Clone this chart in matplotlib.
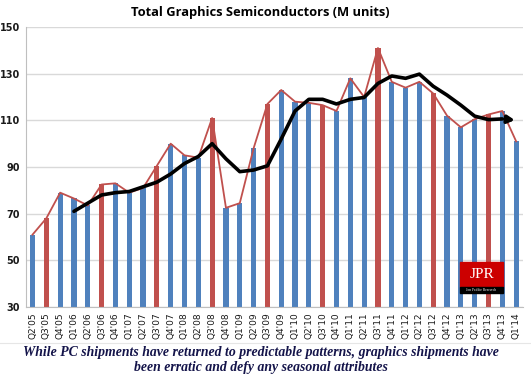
import numpy as np
import matplotlib.pyplot as plt
from matplotlib.patches import Rectangle

# ── Data ───────────────────────────────────────────────────────
quarters = ["Q2'05", "Q3'05", "Q4'05", "Q1'06", "Q2'06", "Q3'06", "Q4'06",
            "Q1'07", "Q2'07", "Q3'07", "Q4'07", "Q1'08", "Q2'08", "Q3'08",
            "Q4'08", "Q1'09", "Q2'09", "Q3'09", "Q4'09", "Q1'10", "Q2'10",
            "Q3'10", "Q4'10", "Q1'11", "Q2'11", "Q3'11", "Q4'11", "Q1'12",
            "Q2'12", "Q3'12", "Q4'12", "Q1'13", "Q2'13", "Q3'13", "Q4'13",
            "Q1'14"]
units = [61, 68, 79, 76.5, 73.5, 82.5, 83, 79, 81, 90.5, 100, 95, 94, 111,
         72.5, 74.5, 98, 117, 123, 118, 117.5, 116.5, 114, 128, 120, 141,
         126.5, 124, 126.5, 121.5, 112, 107, 110.5, 112.5, 114, 101]
# trend line starts at Q1'06
trend = [71, 74.5, 78, 79, 79.5, 81.5, 83.5, 87, 91.5, 94.5, 100, 93.5, 88,
         88.7, 90.5, 102, 114, 119, 119, 117, 119, 119.8, 125.8, 129, 128,
         129.8, 124.6, 120.8, 116.5, 111.8, 110.3, 110.6, 110]
yticks = [30, 50, 70, 90, 110, 130, 150]

BLUE = '#4F81BD'
RED = '#C0504D'
GRID = '#D9D9D9'

# ── Figure ─────────────────────────────────────────────────────
fig = plt.figure(figsize=(5.31, 3.77), dpi=100)
fig.patch.set_facecolor('white')
ax = fig.add_axes([0.0482, 0.1857, 0.9368, 0.7427])

x = np.arange(len(quarters))
colors = [RED if q.startswith('Q3') else BLUE for q in quarters]
ax.bar(x, np.array(units) - 30, bottom=30, width=0.38, color=colors, zorder=2)
ax.plot(x, units, color=RED, lw=1.3, zorder=3)

tx = x[len(x) - len(trend):]
ax.plot(tx[:-1], trend[:-1], color='black', lw=2.6, zorder=4,
        solid_capstyle='round', solid_joinstyle='round')
ax.annotate('', xy=(tx[-1] + 0.1, trend[-1]), xytext=(tx[-2], trend[-2]),
            arrowprops=dict(arrowstyle='-|>,head_length=0.4,head_width=0.22',
                            color='black', lw=2.6), zorder=5)

ax.set_xlim(-0.5, len(quarters) - 0.5)
ax.set_ylim(30, 150)
ax.set_yticks(yticks)
ax.yaxis.grid(True, color=GRID, lw=1.0, zorder=0)
ax.set_axisbelow(True)
ax.set_xticks(x)
ax.set_xticklabels(quarters, rotation=90, fontsize=6.5, family='DejaVu Sans',
                   color='#1a1a1a')
ax.tick_params(axis='both', length=0, pad=4)
for lbl in ax.get_yticklabels():
    lbl.set_fontsize(7)
    lbl.set_fontweight('bold')
    lbl.set_color('#1a1a1a')
for s in ['top', 'right']:
    ax.spines[s].set_visible(False)
ax.spines['left'].set_color('#BFBFBF')
ax.spines['bottom'].set_color('#BFBFBF')

fig.text(0.49, 0.968, "Total Graphics Semiconductors (M units)", ha='center',
         va='center', fontsize=9.3, fontweight='bold', family='Open Sans')

# JPR logo
fig.patches.append(Rectangle((460 / 531, 1 - 287 / 377), 43 / 531, 25 / 377,
                             transform=fig.transFigure, color='#CC0000',
                             zorder=6))
fig.patches.append(Rectangle((460 / 531, 1 - 293 / 377), 43 / 531, 6 / 377,
                             transform=fig.transFigure, color='black',
                             zorder=6))
fig.text(481.5 / 531, 1 - 274 / 377, "JPR", ha='center', va='center',
         color='white', fontsize=11, family='Liberation Serif', zorder=7)
fig.text(481.5 / 531, 1 - 290 / 377, "Jon Peddie Research", ha='center',
         va='center', color='white', fontsize=2.6, family='Liberation Serif',
         zorder=7)

# bottom frame line and caption
fig.add_artist(plt.Line2D([0, 1], [1 - 343 / 377] * 2, color='#E6E6E6',
                          lw=0.8, transform=fig.transFigure))
caption = ("While PC shipments have returned to predictable patterns, graphics shipments have\n"
           "been erratic and defy any seasonal attributes")
fig.text(0.4915, 1 - 360 / 377, caption, ha='center', va='center',
         fontsize=9.9, style='italic', fontweight='bold',
         family='Liberation Serif', color='#14144a', linespacing=1.15)

fig.savefig('out.png', dpi=100)
